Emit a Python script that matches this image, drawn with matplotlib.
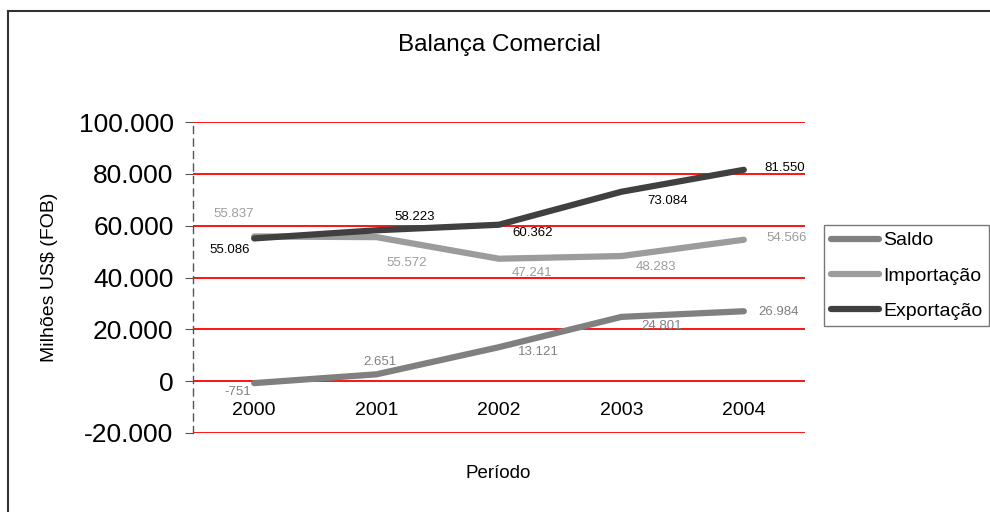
import matplotlib.pyplot as plt
from matplotlib.lines import Line2D
from matplotlib.ticker import FuncFormatter

anos = ['2000', '2001', '2002', '2003', '2004']
saldo = [-751, 2651, 13121, 24801, 26984]
importacao = [55837, 55572, 47241, 48283, 54566]
exportacao = [55086, 58223, 60362, 73084, 81550]
yticks = [-20000, 0, 20000, 40000, 60000, 80000, 100000]

# label offsets in pixels (dx, dy)
off_saldo = [(-16, -9), (3, 12), (39, -5), (40, -9), (35, -1)]
off_imp = [(-21, 22), (30, -26), (33, -14), (35, -11), (43, 2)]
off_exp = [(-25, -12), (38, 13), (34, -8), (46, -9), (41, 2)]

W, H = 990, 512
plt.rcParams['font.family'] = ['Liberation Sans', 'DejaVu Sans']
fig = plt.figure(figsize=(W / 100, H / 100), dpi=100)

# outer border (left and top only visible)
fig.add_artist(Line2D([8 / W, 8 / W], [0, 1 - 11 / H], transform=fig.transFigure,
                      color='#333333', lw=1.5))
fig.add_artist(Line2D([8 / W, 1], [1 - 11 / H, 1 - 11 / H], transform=fig.transFigure,
                      color='#333333', lw=1.5))

ax = fig.add_axes([193 / W, 1 - 433 / H, (805 - 193) / W, (433 - 122) / H])
x = list(range(len(anos)))

for v in yticks:
    ax.axhline(v, color='red', lw=1.3, zorder=1)

series = [
    ('Saldo', saldo, '#808080', '#808080', off_saldo),
    ('Importação', importacao, '#9c9c9c', '#9c9c9c', off_imp),
    ('Exportação', exportacao, '#404040', '#000000', off_exp),
]
for nome, vals, cor, cor_txt, offs in series:
    ax.plot(x, vals, color=cor, lw=4.5, solid_capstyle='round',
            solid_joinstyle='round', label=nome, zorder=3)
    for xi, v, (dx, dy) in zip(x, vals, offs):
        txt = '{:,}'.format(v).replace(',', '.')
        ax.annotate(txt, (xi, v), xytext=(dx, dy), textcoords='offset pixels',
                    ha='center', va='center', fontsize=9.5, color=cor_txt, zorder=4)

ax.set_xlim(-0.5, 4.5)
ax.set_ylim(-20000, 100000)
ax.set_yticks(yticks)
ax.yaxis.set_major_formatter(FuncFormatter(lambda v, p: '{:,}'.format(int(v)).replace(',', '.')))
ax.tick_params(axis='y', labelsize=19, length=6, color='#555555', pad=8)

ax.set_xticks(x)
ax.set_xticklabels(anos)
ax.spines['bottom'].set_position(('data', 0))
ax.spines['bottom'].set_visible(False)
ax.tick_params(axis='x', length=0, pad=15, labelsize=14)

for s in ['top', 'right']:
    ax.spines[s].set_visible(False)
ax.spines['left'].set_linestyle((0, (5, 4)))
ax.spines['left'].set_color('#555555')
ax.spines['left'].set_linewidth(1)

fig.text(50 / W, 1 - 277 / H, 'Milhões US$ (FOB)', fontsize=14, rotation=90,
         ha='center', va='center')
fig.text(498 / W, 1 - 473 / H, 'Período', fontsize=13.5, ha='center', va='center')
fig.text(499 / W, 1 - 45 / H, 'Balança Comercial', fontsize=17.5, ha='center', va='center')

leg = fig.legend(loc='upper left', bbox_to_anchor=(824 / W, 1 - 225 / H),
                 fontsize=14, frameon=True, fancybox=False, edgecolor='#555555',
                 handlelength=2.5, handletextpad=0.2, borderpad=0.35,
                 labelspacing=0.9, borderaxespad=0)
leg.get_frame().set_linewidth(1)

fig.savefig('out.png', dpi=100)
